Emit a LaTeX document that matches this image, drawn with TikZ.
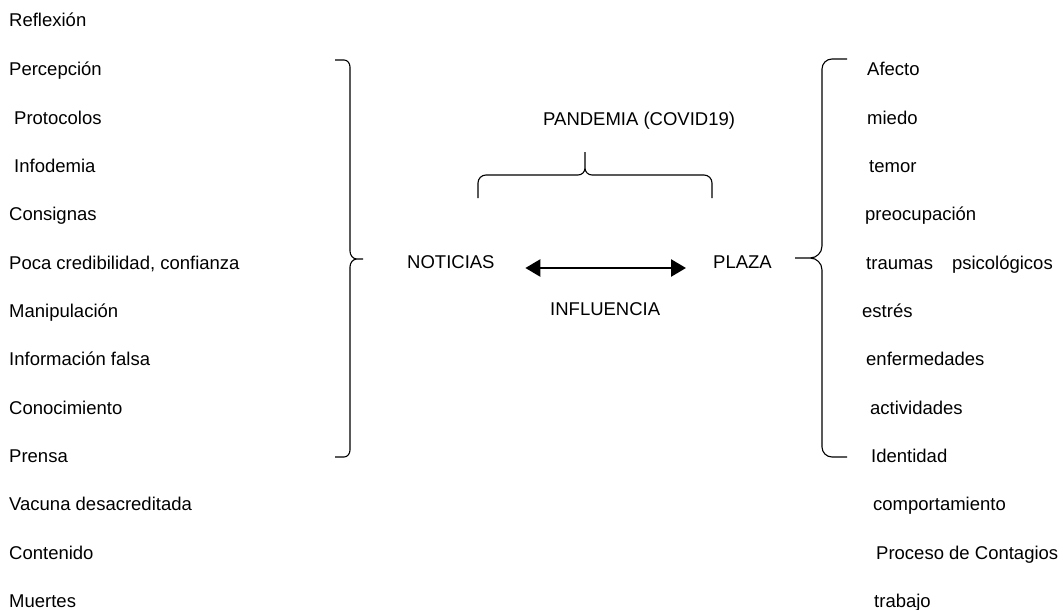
\documentclass[tikz,border=0pt]{standalone}
\usepackage{fontspec}
\setmainfont{Liberation Sans}
\usepackage{tikz}
\usetikzlibrary{arrows.meta}

\begin{document}
\begin{tikzpicture}
    [x=1pt, y=-1pt,
    txt/.style={anchor=base west, inner sep=0pt, font=\fontsize{18.5}{22}\selectfont},
    post/.style={{Triangle[length=15pt,width=17pt]}-{Triangle[length=15pt,width=17pt]}, line width=2.6pt},
    llave/.style={draw, line width=1.1pt}]
    \useasboundingbox (0,0) rectangle (1063,610);
    % left column
    \node [txt] (Reflexion) at (9,27) {Reflexión};
    \node [txt] (Percepcion) at (9,75) {Percepción};
    \node [txt] (Protocolos) at (14,124) {Protocolos};
    \node [txt] (Infodemia) at (14,172) {Infodemia};
    \node [txt] (Consignas) at (9,220) {Consignas};
    \node [txt] (Poca) at (9,269) {Poca credibilidad, confianza};
    \node [txt] (Manipulacion) at (9,317) {Manipulación};
    \node [txt] (Falsa) at (9,365) {Información falsa};
    \node [txt] (Conocimiento) at (9,414) {Conocimiento};
    \node [txt] (Prensa) at (9,462) {Prensa};
    \node [txt] (Vacuna) at (9,510) {Vacuna desacreditada};
    \node [txt] (Contenido) at (9,559) {Contenido};
    \node [txt] (Muertes) at (9,607) {Muertes};
    % center
    \node [txt] (Pandemia) at (543,125) {PANDEMIA (COVID19)};
    \node [txt] (NOTICIAS) at (407,268) {NOTICIAS};
    \node [txt] (PLAZA) at (713,268) {PLAZA};
    \node [txt] (Influencia) at (550,315) {INFLUENCIA};
    \draw[post] ([xshift=30.6]NOTICIAS.base east) -- ([xshift=-27]PLAZA.base west);
    % right column
    \node [txt] (Afecto) at (867,75) {Afecto};
    \node [txt] (Miedo) at (867,124) {miedo};
    \node [txt] (Temor) at (869,172) {temor};
    \node [txt] (Preocupacion) at (865,220) {preocupación};
    \node [txt] (Traumas) at (866,269) {traumas\hspace{19pt}psicológicos};
    \node [txt] (Estres) at (862,317) {estrés};
    \node [txt] (Enfermedades) at (866,365) {enfermedades};
    \node [txt] (Actividades) at (870,414) {actividades};
    \node [txt] (Identidad) at (871,462) {Identidad};
    \node [txt] (Comportamiento) at (873,510) {comportamiento};
    \node [txt] (Contagios) at (876,559) {Proceso de Contagios};
    \node [txt] (Trabajo) at (874,607) {trabajo};
    % braces
    \draw[llave] (335,60) -- (344,60) to[out=0,in=90] (350,67) -- (350,251)
        to[out=-90,in=180] (357,259) -- (363,259) -- (357,259) to[out=180,in=90] (350,267)
        -- (350,450) to[out=-90,in=0] (344,457) -- (335,457);
    \draw[llave] (478,198) -- (478,183) to[out=90,in=180] (486,175) -- (578,175)
        to[out=0,in=-90] (585,168) -- (585,152) -- (585,168) to[out=-90,in=180] (592,175)
        -- (704,175) to[out=0,in=90] (712,183) -- (712,198);
    \draw[llave] (847,59) -- (832,59) to[out=180,in=90] (822,69) -- (822,246)
        to[out=-90,in=0] (810,258) -- (795,258) -- (810,258) to[out=0,in=90] (822,270)
        -- (822,447) to[out=-90,in=180] (832,457) -- (847,457);
\end{tikzpicture}
\end{document}
